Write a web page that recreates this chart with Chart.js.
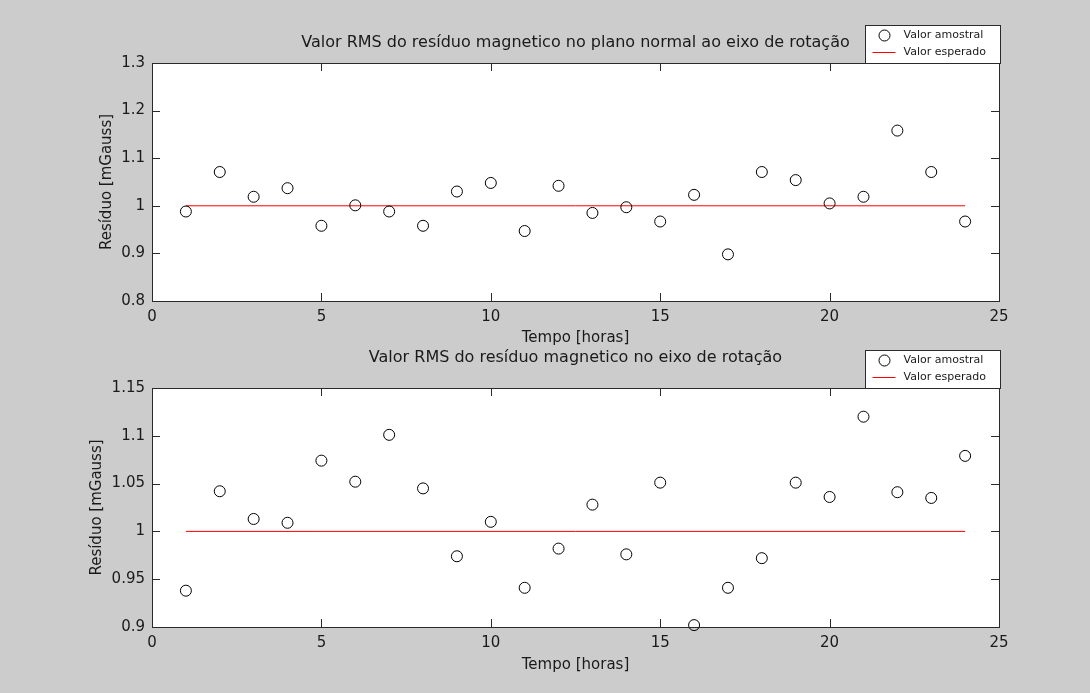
<!DOCTYPE html>
<html>
<head>
<meta charset="utf-8">
<script src="https://cdn.jsdelivr.net/npm/chart.js@4"></script>
<style>
  html, body { margin: 0; padding: 0; background: #cccccc; }
  canvas { display: block; }
</style>
</head>
<body>
<canvas id="plano" width="1090" height="346"></canvas>
<canvas id="eixo" width="1090" height="347"></canvas>
<script>
// horas de medição
const horas = [1, 2, 3, 4, 5, 6, 7, 8, 9, 10, 11, 12, 13, 14, 15, 16, 17, 18, 19, 20, 21, 22, 23, 24];

// RMS no plano normal ao eixo de rotação [mGauss]
const rmsPlano = [0.988, 1.071, 1.019, 1.037, 0.958, 1.001, 0.988, 0.958, 1.030, 1.048, 0.947, 1.042,
                  0.985, 0.997, 0.967, 1.023, 0.898, 1.071, 1.054, 1.005, 1.019, 1.158, 1.071, 0.967];

// RMS no eixo de rotação [mGauss]
const rmsEixo = [0.938, 1.042, 1.013, 1.009, 1.074, 1.052, 1.101, 1.045, 0.974, 1.010, 0.941, 0.982,
                 1.028, 0.976, 1.051, 0.902, 0.941, 0.972, 1.051, 1.036, 1.120, 1.041, 1.035, 1.079];

const valorEsperado = 1;

const ticksX = [0, 5, 10, 15, 20, 25];
const ticksPlano = [0.8, 0.9, 1, 1.1, 1.2, 1.3];
const ticksEixo = [0.9, 0.95, 1, 1.05, 1.1, 1.15];

const FONTE = "'DejaVu Sans', sans-serif";
const COR_TEXTO = '#1a1a1a';
const COR_EIXO = '#2a2a2a';

// fundo branco, moldura com ticks para dentro e legenda no canto
const moldura = {
  id: 'moldura',
  beforeDraw(chart) {
    const a = chart.chartArea;
    const ctx = chart.ctx;
    ctx.save();
    ctx.fillStyle = '#ffffff';
    ctx.fillRect(a.left, a.top, a.right - a.left, a.bottom - a.top);
    ctx.restore();
  },
  afterDraw(chart) {
    const a = chart.chartArea;
    const ctx = chart.ctx;
    const sx = chart.scales.x, sy = chart.scales.y;
    const tl = 8;
    ctx.save();
    ctx.strokeStyle = COR_EIXO;
    ctx.lineWidth = 1;
    ctx.strokeRect(a.left + 0.5, a.top + 0.5, a.right - a.left, a.bottom - a.top);
    ctx.beginPath();
    sx.ticks.forEach(t => {
      const px = Math.round(sx.getPixelForValue(t.value)) + 0.5;
      ctx.moveTo(px, a.bottom); ctx.lineTo(px, a.bottom - tl);
      ctx.moveTo(px, a.top); ctx.lineTo(px, a.top + tl);
    });
    sy.ticks.forEach(t => {
      const py = Math.round(sy.getPixelForValue(t.value)) + 0.5;
      ctx.moveTo(a.left, py); ctx.lineTo(a.left + tl, py);
      ctx.moveTo(a.right, py); ctx.lineTo(a.right - tl, py);
    });
    ctx.stroke();

    // legenda
    const w = 135, h = 38;
    const lx = a.right - w + 1.5, ly = a.top - h + 0.5;
    ctx.fillStyle = '#ffffff';
    ctx.fillRect(lx, ly, w, h);
    ctx.strokeStyle = COR_EIXO;
    ctx.strokeRect(lx, ly, w, h);
    const ds = chart.data.datasets;
    ctx.font = "11px " + FONTE;
    ctx.textBaseline = 'middle';
    ctx.textAlign = 'left';
    ds.forEach((d, i) => {
      const cy = ly + 10 + i * 17;
      ctx.strokeStyle = d.borderColor;
      ctx.lineWidth = d.borderWidth;
      ctx.beginPath();
      if (d.showLine) {
        ctx.moveTo(lx + 7, cy); ctx.lineTo(lx + 30, cy);
      } else {
        ctx.arc(lx + 19, cy, d.pointRadius, 0, Math.PI * 2);
      }
      ctx.stroke();
      ctx.fillStyle = COR_TEXTO;
      ctx.fillText(d.label, lx + 38, cy);
    });
    ctx.restore();
  }
};

function fazerGrafico(id, titulo, valores, yTicks, pos) {
  const amostras = horas.map((h, i) => ({ x: h, y: valores[i] }));
  const esperado = [
    { x: horas[0], y: valorEsperado },
    { x: horas[horas.length - 1], y: valorEsperado }
  ];
  return new Chart(id, {
    type: 'scatter',
    data: {
      datasets: [
        {
          label: 'Valor amostral',
          data: amostras,
          pointStyle: 'circle',
          pointRadius: 5.5,
          pointHoverRadius: 5.5,
          borderColor: '#000000',
          backgroundColor: 'rgba(0,0,0,0)',
          borderWidth: 1,
          clip: false
        },
        {
          label: 'Valor esperado',
          data: esperado,
          showLine: true,
          pointRadius: 0,
          borderColor: '#ff0000',
          borderWidth: 1
        }
      ]
    },
    options: {
      responsive: false,
      animation: false,
      events: [],
      layout: { padding: { left: 0, right: 91, top: 0, bottom: pos.padBottom } },
      plugins: {
        legend: { display: false },
        tooltip: { enabled: false },
        title: {
          display: true,
          text: titulo,
          fullSize: false,
          color: COR_TEXTO,
          font: { family: FONTE, size: 16, weight: 'normal', lineHeight: 1 },
          padding: { top: pos.titleTop, bottom: pos.titleBottom }
        }
      },
      scales: {
        x: {
          type: 'linear',
          position: 'bottom',
          min: 0,
          max: 25,
          afterFit: s => { s.height = pos.xHeight; },
          afterBuildTicks: s => { s.ticks = ticksX.map(v => ({ value: v })); },
          grid: { display: false, drawTicks: false, tickLength: 0 },
          border: { display: false },
          ticks: {
            color: COR_TEXTO,
            padding: 7,
            maxRotation: 0,
            font: { family: FONTE, size: 15 }
          },
          title: {
            display: true,
            text: 'Tempo [horas]',
            color: COR_TEXTO,
            font: { family: FONTE, size: 15, lineHeight: 1 },
            padding: { top: 0, bottom: pos.xTitleBottom }
          }
        },
        y: {
          min: yTicks[0],
          max: yTicks[yTicks.length - 1],
          afterFit: s => { s.width = 152; },
          afterBuildTicks: s => { s.ticks = yTicks.map(v => ({ value: v })); },
          grid: { display: false, drawTicks: false, tickLength: 0 },
          border: { display: false },
          ticks: {
            color: COR_TEXTO,
            padding: 7,
            font: { family: FONTE, size: 15 },
            callback: v => String(+v.toFixed(2))
          },
          title: {
            display: true,
            text: 'Resíduo [mGauss]',
            color: COR_TEXTO,
            font: { family: FONTE, size: 15, lineHeight: 1 },
            padding: { top: pos.yTitleX - 7.5, bottom: 0 }
          }
        }
      }
    },
    plugins: [moldura]
  });
}

fazerGrafico('plano', 'Valor RMS do resíduo magnetico no plano normal ao eixo de rotação',
  rmsPlano, ticksPlano,
  { padBottom: 0, xHeight: 45, xTitleBottom: 0, titleTop: 35, titleBottom: 12, yTitleX: 107 });

fazerGrafico('eixo', 'Valor RMS do resíduo magnetico no eixo de rotação',
  rmsEixo, ticksEixo,
  { padBottom: 6, xHeight: 60, xTitleBottom: 14.5, titleTop: 4, titleBottom: 22, yTitleX: 97 });
</script>
</body>
</html>
